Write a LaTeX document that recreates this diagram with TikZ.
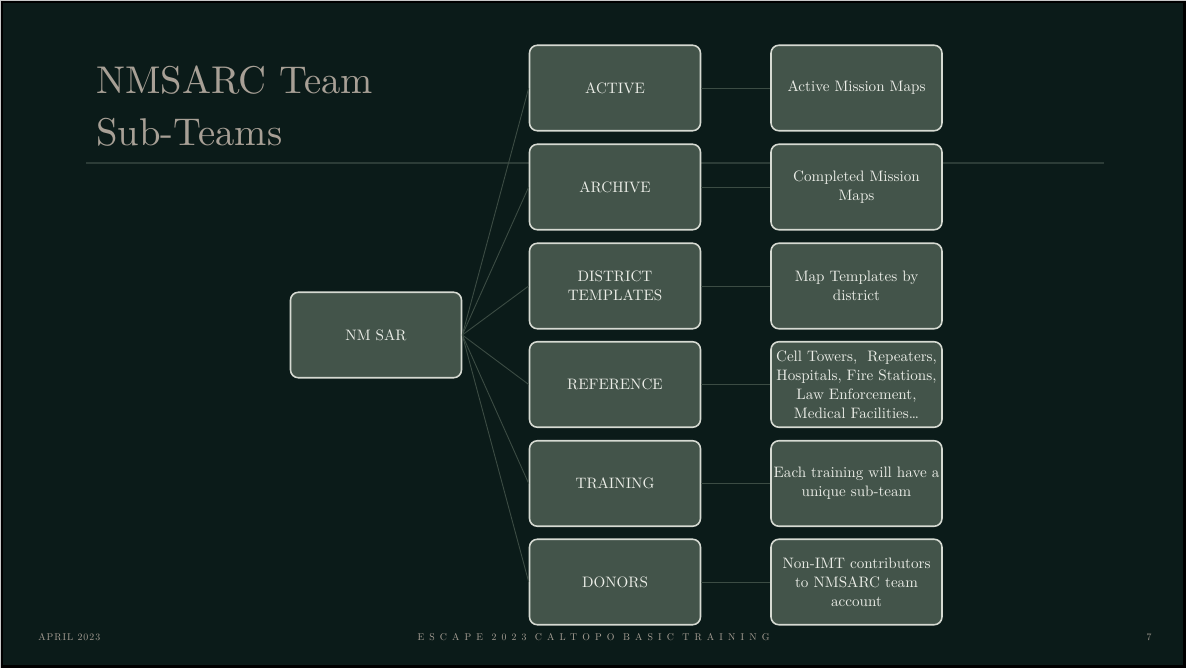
\documentclass[tikz,border=0pt]{standalone}
\usepackage{fontspec}
\setmainfont{lmroman10-regular}[Extension=.otf]
\usepackage{tikz}
\usetikzlibrary{positioning, calc}

\definecolor{bg}{RGB}{11,27,25}
\definecolor{framegray}{RGB}{200,200,200}
\definecolor{boxfill}{RGB}{67,84,74}
\definecolor{boxline}{RGB}{214,218,210}
\definecolor{boxtext}{RGB}{236,238,232}
\definecolor{linkcol}{RGB}{60,76,68}
\definecolor{rulecol}{RGB}{44,60,55}
\definecolor{titlecol}{RGB}{168,160,150}

\begin{document}
\begin{tikzpicture}[scale=0.2]
    \tikzstyle{team}=[draw=boxline, line width=0.9pt, fill=boxfill, rounded corners=4.5pt,
      minimum width=3.42cm, minimum height=1.71cm, align=center, text=boxtext,
      inner sep=0.5pt, font=\fontsize{8.6}{10.8}\selectfont]
    \tikzstyle{link}=[draw=linkcol, line width=0.5pt]
    \tikzstyle{foot}=[text=titlecol, inner sep=0pt, font=\fontsize{5.6}{6}\selectfont]
    % slide
    \fill [framegray] (0,0) rectangle (118.6,-66.8);
    \fill [black] (0.1,-0.1) rectangle (118.6,-66.8);
    \fill [bg] (0.3,-0.3) rectangle (118.3,-66.5);
    \useasboundingbox (0,0) rectangle (118.6,-66.8);
    % title
    \node [anchor=base west, text=titlecol, inner sep=0pt, font=\fontsize{22}{26}\selectfont] (title1) at (9.6,-9.4) {NMSARC Team};
    \node [anchor=base west, text=titlecol, inner sep=0pt, font=\fontsize{22}{26}\selectfont] (title2) at (9.6,-14.6) {Sub-Teams};
    \coordinate (ruleL) at (8.6,-16.3);
    \coordinate (ruleR) at (110.4,-16.3);
    \draw [rulecol, line width=0.8pt] (ruleL) -- (ruleR);
    % root
    \node [team] (nmsar) at (37.6,-33.5) {NM SAR};
    % sub-teams
    \node [team] (active) at (61.5,-8.8) {ACTIVE};
    \node [team] (archive) at (61.5,-18.7) {ARCHIVE};
    \node [team] (district) at (61.5,-28.6) {DISTRICT\\TEMPLATES};
    \node [team] (reference) at (61.5,-38.45) {REFERENCE};
    \node [team] (training) at (61.5,-48.35) {TRAINING};
    \node [team] (donors) at (61.5,-58.2) {DONORS};
    % descriptions
    \node [team] (activeD) at (85.65,-8.8) {Active Mission Maps};
    \node [team] (archiveD) at (85.65,-18.7) {Completed Mission\\Maps};
    \node [team] (districtD) at (85.65,-28.6) {Map Templates by\\district};
    \node [team] (referenceD) at (85.65,-38.45) {Cell Towers,\ \ Repeaters,\\Hospitals, Fire Stations,\\Law Enforcement,\\Medical Facilities…};
    \node [team] (trainingD) at (85.65,-48.35) {Each training will have a\\unique sub-team};
    \node [team] (donorsD) at (85.65,-58.2) {Non-IMT contributors\\to NMSARC team\\account};
    % connectors
    \draw [link] (nmsar.east) -- (active.west);
    \draw [link] (nmsar.east) -- (archive.west);
    \draw [link] (nmsar.east) -- (district.west);
    \draw [link] (nmsar.east) -- (reference.west);
    \draw [link] (nmsar.east) -- (training.west);
    \draw [link] (nmsar.east) -- (donors.west);
    \draw [link] (active.east) -- (activeD.west);
    \draw [link] (archive.east) -- (archiveD.west);
    \draw [link] (district.east) -- (districtD.west);
    \draw [link] (reference.east) -- (referenceD.west);
    \draw [link] (training.east) -- (trainingD.west);
    \draw [link] (donors.east) -- (donorsD.west);
    % footer
    \node [foot, anchor=base west] (date) at (3.8,-64.0) {\addfontfeatures{LetterSpace=10}APRIL 2023};
    \node [foot, anchor=base] (event) at (59.35,-64.0) {\addfontfeatures{LetterSpace=52}ESCAPE 2023 CALTOPO BASIC TRAINING};
    \node [foot, anchor=base east] (page) at (115.2,-64.0) {7};
\end{tikzpicture}
\end{document}
